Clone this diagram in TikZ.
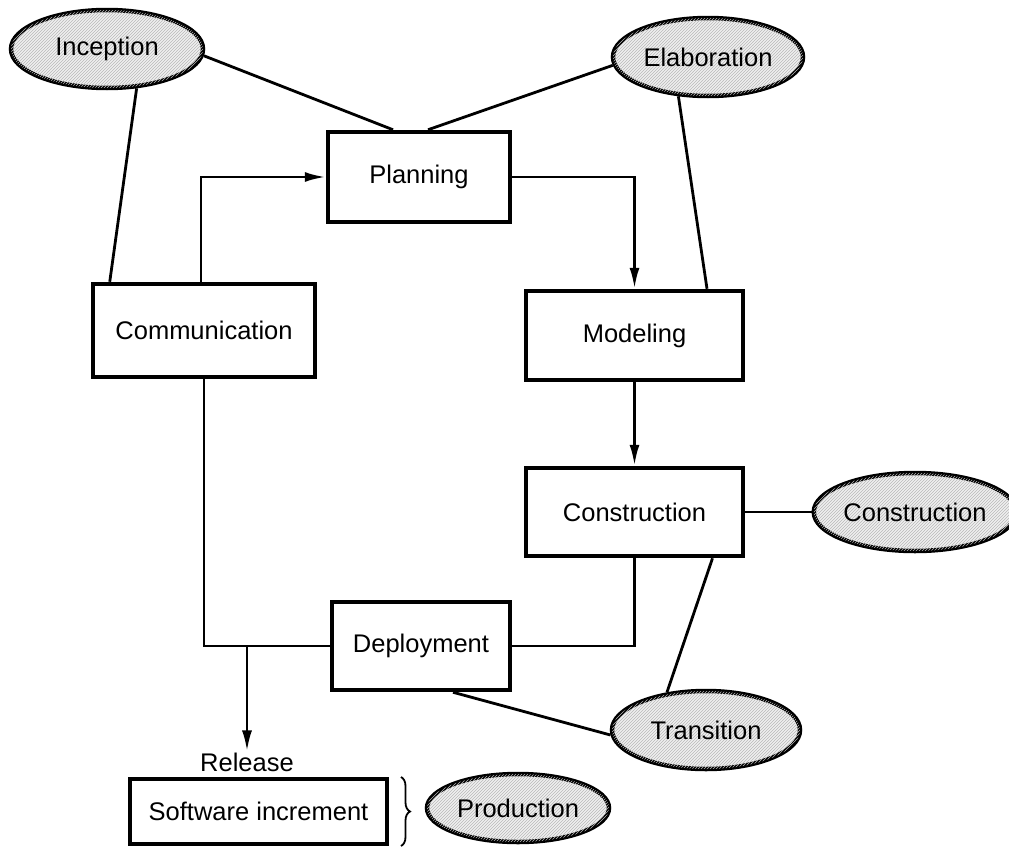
\documentclass[tikz,border=0pt]{standalone}
\usepackage{fontspec}
\setmainfont{Liberation Sans}
\usetikzlibrary{shapes.geometric,arrows.meta,patterns,decorations.pathreplacing}

\begin{document}
\begin{tikzpicture}[x=1pt,y=-1pt,
  every node/.style={font=\fontsize{25.5}{30}\selectfont},
  activity/.style={draw, line width=4.5pt, rectangle, inner sep=0pt},
  phase/.style={draw, line width=4.5pt, ellipse, inner sep=0pt,
    fill=gray!12, postaction={pattern=north east lines, pattern color=gray!55}},
  link/.style={line width=2.8pt},
  flow/.style={line width=2.8pt, -{Latex[length=21pt,width=10pt]}},
]
\useasboundingbox (0,0) rectangle (1009,846);

% process activities
\node[activity, minimum width=182pt, minimum height=90pt] (plan) at (419,177) {Planning};
\node[activity, minimum width=222pt, minimum height=93pt] (comm) at (204,330.5) {Communication};
\node[activity, minimum width=217pt, minimum height=89pt] (model) at (634.5,335.5) {Modeling};
\node[activity, minimum width=217pt, minimum height=88pt] (cons) at (634.5,512) {Construction};
\node[activity, minimum width=178pt, minimum height=88pt] (deploy) at (421,646) {Deployment};
\node[activity, minimum width=257pt, minimum height=65pt] (incr) at (258.5,811.5) {Software increment};
\node[inner sep=1pt] (release) at (247,762) {Release};

% unified process phases
\node[phase, minimum width=192pt, minimum height=78pt] (incep) at (107,49) {Inception};
\node[phase, minimum width=190pt, minimum height=78pt] (elab) at (708,57) {Elaboration};
\node[phase, minimum width=184pt, minimum height=78pt] (consph) at (915,512) {Construction};
\node[phase, minimum width=188pt, minimum height=78pt] (trans) at (706,730) {Transition};
\node[phase, minimum width=182pt, minimum height=68pt] (prod) at (518,808) {Production};

% phase associations
\draw[link] (incep.-4) -- ([xshift=-26pt]plan.north);
\draw[link] (elab.185) -- ([xshift=9pt]plan.north);
\draw[link] (incep.-53) -- ([xshift=19pt]comm.north west);
\draw[link] (elab.-127) -- ([xshift=72.5pt]model.north);
\draw[link] (cons.east) -- (consph.west);
\draw[link] ([xshift=78pt]cons.south) -- (trans.136);
\draw[link] ([xshift=32pt]deploy.south) -- (trans.183);

% activity flow
\draw[flow] ([xshift=-3pt]comm.north) |- (plan.west);
\draw[flow] (plan.east) -| (model.north);
\draw[flow] (model.south) -- (cons.north);
\draw[link] (cons.south) |- (deploy.east);
\draw[link] (comm.south) |- (deploy.west);
\coordinate (split) at (247,646);
\draw[flow] (split) -- (release.north);

% brace grouping the increment with production
\draw[line width=1.8pt, decorate, decoration={brace, amplitude=9pt}] (401,777) -- (401,846);
\end{tikzpicture}
\end{document}
